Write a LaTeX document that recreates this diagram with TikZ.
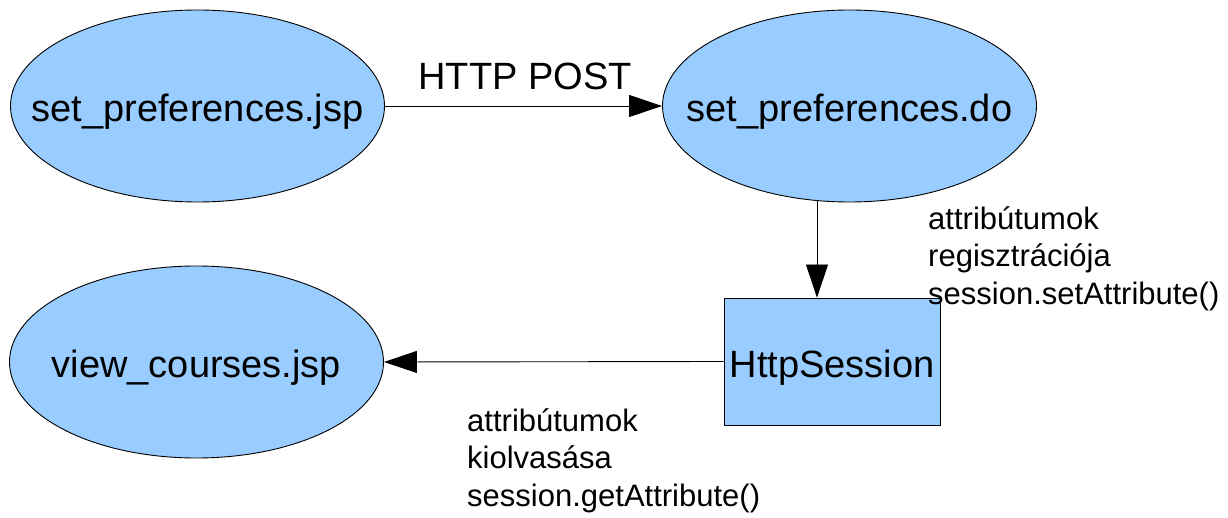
\documentclass[tikz,border=0pt]{standalone}
\usepackage{fontspec}
\setmainfont{Liberation Sans}
\usetikzlibrary{shapes.geometric,arrows.meta}
\definecolor{nodeblue}{HTML}{99CCFF}
\newcommand{\zw}[1]{\makebox[0pt]{\raisebox{-15.5pt}[0pt][0pt]{#1}}}
\tikzset{
  blob/.style={ellipse, draw=black, fill=nodeblue, line width=0.9pt, inner sep=0pt,
    minimum width=374pt, minimum height=192pt, font=\fontsize{38}{44}\selectfont},
  boxnode/.style={rectangle, draw=black, fill=nodeblue, line width=0.9pt, inner sep=0pt,
    minimum width=216pt, minimum height=127pt, font=\fontsize{38}{44}\selectfont},
  conn/.style={line width=0.9pt, -{Triangle[length=33pt,width=22pt]}},
  biglabel/.style={font=\fontsize{38}{44}\selectfont, inner sep=0pt, anchor=base},
  smalllabel/.style={font=\fontsize{31}{37.5}\selectfont, inner sep=0pt, anchor=north west, align=left}
}
\begin{document}
\begin{tikzpicture}[x=1pt,y=-1pt]
\useasboundingbox (0,0) rectangle (1228,518);
\node[blob] (jsp) at (197.5,106) {\zw{set\_preferences.jsp}};
\node[blob] (do) at (849.5,106) {\zw{set\_preferences.do}};
\node[blob] (view) at (196.5,362) {\zw{view\_courses.jsp}};
\node[boxnode] (sess) at (832,361.5) {\zw{HttpSession}};
\draw[conn] (jsp.east) -- (do.west);
\node[biglabel] (post) at (525,90) {HTTP POST};
\coordinate (dobot) at (817,201);
\draw[conn] (dobot) -- (dobot |- sess.north);
\draw[conn] (sess.west) -- (view.east);
\node[smalllabel] (reg) at (928,206) {attribútumok\\regisztrációja\\session.setAttribute()};
\node[smalllabel] (read) at (467,408) {attribútumok\\kiolvasása\\session.getAttribute()};
\end{tikzpicture}
\end{document}
